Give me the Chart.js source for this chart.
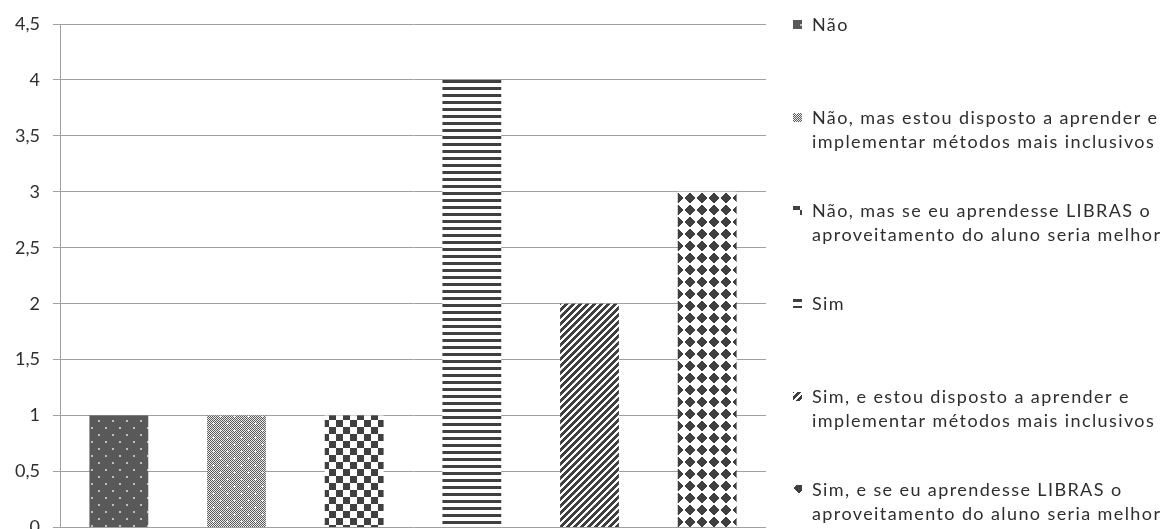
<!DOCTYPE html>
<html>
<head>
<meta charset="utf-8">
<script src="https://cdn.jsdelivr.net/npm/chart.js@4.4.1/dist/chart.umd.min.js"></script>
<style>
  html, body { margin: 0; padding: 0; background: #ffffff; overflow: hidden; }
  #wrap { position: relative; width: 1173px; height: 540px; }
  canvas { display: block; }
</style>
</head>
<body>
<div id="wrap"><canvas id="c" width="1173" height="540"></canvas></div>
<script>
// Answer options (one bar each) and how many respondents chose them
const categories = ['Não', 'Não, mas estou disposto', 'Não, mas se eu aprendesse', 'Sim', 'Sim, e estou disposto', 'Sim, e se eu aprendesse'];
const seriesNames = [
  ['Não'],
  ['Não, mas estou disposto a aprender e', 'implementar métodos mais inclusivos'],
  ['Não, mas se eu aprendesse LIBRAS o', 'aproveitamento do aluno seria melhor'],
  ['Sim'],
  ['Sim, e estou disposto a aprender e', 'implementar métodos mais inclusivos'],
  ['Sim, e se eu aprendesse LIBRAS o', 'aproveitamento do aluno seria melhor']
];
const seriesValues = [1, 1, 1, 4, 2, 3];
const yTickLabels = ['0', '0,5', '1', '1,5', '2', '2,5', '3', '3,5', '4', '4,5'];

// ---- pattern fills (built pixel by pixel on small tiles) ----
function tile(w, h, colorAt) {
  const cv = document.createElement('canvas');
  cv.width = w; cv.height = h;
  const c = cv.getContext('2d');
  const img = c.createImageData(w, h);
  for (let y = 0; y < h; y++) {
    for (let x = 0; x < w; x++) {
      const v = colorAt(x, y);
      const k = (y * w + x) * 4;
      img.data[k] = v; img.data[k + 1] = v; img.data[k + 2] = v; img.data[k + 3] = 255;
    }
  }
  c.putImageData(img, 0, 0);
  return c.createPattern(cv, 'repeat');
}
const DARK = 64, WHITE = 255;
const patterns = [
  // dark grey with a staggered grid of light dots
  tile(14, 14, (x, y) => {
    const dot = (x < 2 && y < 2) || (x >= 7 && x < 9 && y >= 7 && y < 9);
    return dot ? 190 : 89;
  }),
  // fine 50% checker with small light crosses
  tile(14, 14, (x, y) => {
    const cross = (cx, cy) => (x === cx && Math.abs(y - cy) <= 1) || (y === cy && Math.abs(x - cx) <= 1);
    if (cross(3, 3) || cross(10, 10)) return 245;
    return (x + y) % 2 === 0 ? 90 : 235;
  }),
  // large checkerboard
  tile(14, 14, (x, y) => ((Math.floor(x / 7) + Math.floor(y / 7)) % 2 === 0 ? DARK : WHITE)),
  // horizontal lines
  tile(7, 7, (x, y) => (y >= 3 && y < 6 ? DARK : WHITE)),
  // wide upward diagonal stripes
  tile(7, 7, (x, y) => ((x + y) % 7 < 4 ? DARK : WHITE)),
  // solid diamonds
  tile(12, 12, (x, y) => (Math.abs(x - 5.5) + Math.abs(y - 5.5) <= 5.5 ? DARK : WHITE))
];

const datasets = seriesNames.map((name, i) => ({
  label: name,
  data: categories.map((_, j) => (j === i ? seriesValues[i] : null)),
  backgroundColor: patterns[i],
  borderWidth: 0
}));

const TEXT = '#2e2e2e';
const FONT = 'Lato, "Liberation Sans", sans-serif';

// legend drawn to the right of the plot, entries spread down the full height
const sideLegend = {
  id: 'sideLegend',
  afterDraw(chart) {
    const ctx = chart.ctx;
    const area = chart.chartArea;
    const swatchX = area.right + 27;
    const textX = area.right + 46;
    const top = area.top;
    const pitch = 93;
    const lineGap = 24.5;
    ctx.save();
    ctx.font = '18px ' + FONT;
    ctx.fillStyle = TEXT;
    ctx.textBaseline = 'middle';
    ctx.textAlign = 'left';
    if ('letterSpacing' in ctx) ctx.letterSpacing = '1.4px';
    chart.data.datasets.forEach((ds, i) => {
      const y0 = top + i * pitch;
      // swatch: a 9px square cut from the same pattern, shifted so the fill phase shows clearly
      ctx.save();
      ctx.translate(swatchX, Math.round(y0 - 4) - 3);
      ctx.fillStyle = ds.backgroundColor;
      ctx.fillRect(0, 3, 9, 9);
      ctx.restore();
      const lines = Array.isArray(ds.label) ? ds.label : [ds.label];
      lines.forEach((t, k) => ctx.fillText(t, textX, y0 + 1 + k * lineGap));
    });
    ctx.restore();
  }
};

new Chart(document.getElementById('c'), {
  type: 'bar',
  data: { labels: categories, datasets },
  options: {
    responsive: false,
    animation: false,
    events: [],
    layout: { padding: { left: 0, right: 407, top: 24, bottom: 12.5 } },
    datasets: { bar: { grouped: false, barPercentage: 0.5, categoryPercentage: 1.0 } },
    plugins: { legend: { display: false }, tooltip: { enabled: false }, sideLegend: {} },
    scales: {
      x: { display: false },
      y: {
        min: 0, max: 4.5,
        afterFit(scale) {
          scale.width = 60;
          // let the layout padding alone decide the plot's top and bottom
          scale.paddingTop = 0;
          scale.paddingBottom = 0;
        },
        grid: { color: '#a0a0a0', lineWidth: 1, drawTicks: true, tickLength: 7 },
        border: { display: true, color: '#a0a0a0' },
        ticks: {
          stepSize: 0.5,
          padding: 13,
          color: TEXT,
          font: { family: FONT, size: 18 },
          callback: (v, idx) => yTickLabels[idx]
        }
      }
    }
  },
  plugins: [sideLegend]
});
</script>
</body>
</html>
